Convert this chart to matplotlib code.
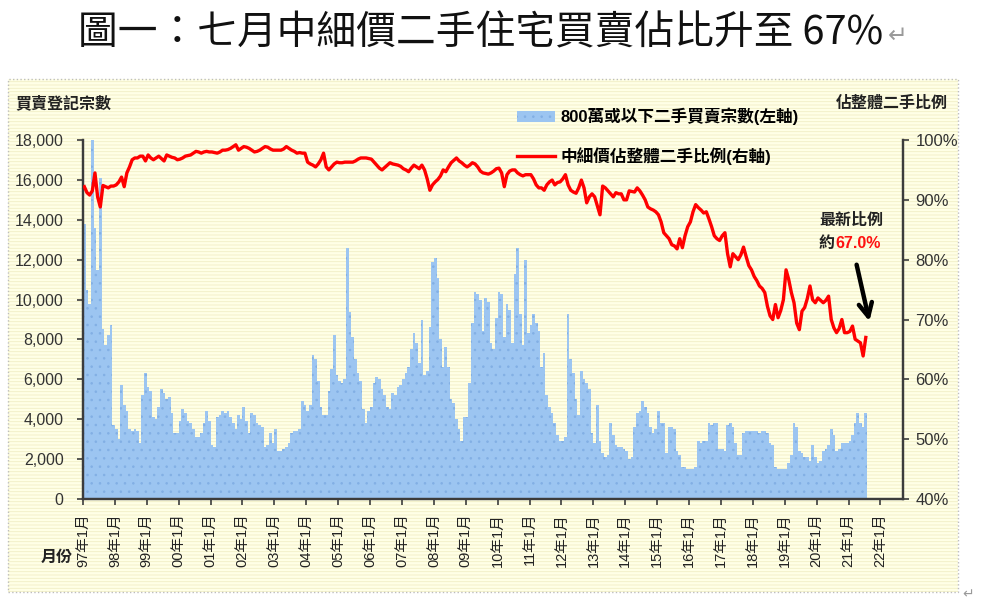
import matplotlib
matplotlib.use("Agg")
import matplotlib.pyplot as plt
import matplotlib.patches as mpatches
import numpy as np

plt.rcParams['font.family'] = ['Liberation Sans', 'Noto Sans CJK TC', 'DejaVu Sans']
plt.rcParams['hatch.linewidth'] = 0.6

# monthly data, 1997-01 .. 2021-07
# 800萬或以下二手買賣宗數
deals = (
    [13800, 10500, 9800, 18000, 13600, 11500, 16100, 8500, 7700, 8200, 8700, 3700]      # 1997
    + [3500, 3000, 5700, 4700, 4400, 3500, 3400, 3500, 3400, 2800, 5200, 6300]          # 1998
    + [5600, 5400, 4100, 4000, 4600, 5500, 5300, 5000, 5100, 4300, 3300, 3300]          # 1999
    + [3900, 4500, 4300, 3900, 3800, 3500, 3100, 3100, 3300, 3800, 4400, 3900]          # 2000
    + [2700, 2600, 4100, 4200, 4400, 4300, 4400, 4100, 3800, 3500, 4200, 4000]          # 2001
    + [4600, 3900, 3300, 4300, 4200, 3800, 3700, 3600, 2600, 2700, 3300, 2800]          # 2002
    + [3500, 2400, 2400, 2500, 2600, 2800, 3300, 3400, 3400, 3500, 4900, 4700]          # 2003
    + [4400, 4700, 7200, 7000, 5900, 4600, 4200, 4200, 5400, 6500, 8200, 6200]          # 2004
    + [5900, 5800, 6000, 12600, 9400, 8100, 7000, 6300, 5900, 4500, 3800, 4400]         # 2005
    + [4600, 5800, 6100, 6000, 5500, 5200, 4600, 4500, 5300, 5200, 5600, 5700]          # 2006
    + [6000, 6300, 6600, 7500, 8300, 7800, 6800, 9000, 6200, 6400, 8600, 11900]         # 2007
    + [12100, 11100, 8000, 6600, 7600, 6600, 5000, 4800, 4000, 3500, 2900, 4100]        # 2008
    + [4100, 5800, 8800, 10400, 10300, 10000, 8400, 10100, 9900, 7800, 7500, 9100]      # 2009
    + [10400, 10300, 8100, 9800, 9500, 7800, 11300, 12600, 9300, 7700, 12000, 8300]     # 2010
    + [8700, 9300, 8800, 8400, 6600, 7300, 5200, 4600, 4300, 3800, 3200, 2900]          # 2011
    + [2900, 3100, 9300, 7000, 6300, 5000, 4200, 6400, 6000, 5800, 5500, 3300]          # 2012
    + [2800, 4700, 2900, 2300, 2100, 2200, 3800, 3200, 2700, 2600, 2600, 2500]          # 2013
    + [2400, 2000, 2100, 3600, 4300, 4400, 4900, 4600, 4300, 3600, 3300, 3500]          # 2014
    + [4400, 3800, 3800, 2300, 3600, 3600, 3500, 2400, 2200, 1600, 1600, 1500]          # 2015
    + [1500, 1500, 1600, 2900, 2800, 2900, 2900, 3800, 3700, 3800, 3800, 2500]          # 2016
    + [2500, 2400, 3700, 3800, 3600, 2800, 2200, 2200, 3300, 3400, 3400, 3400]          # 2017
    + [3400, 3400, 3300, 3400, 3400, 3300, 2800, 2700, 1600, 1500, 1500, 1500]          # 2018
    + [1500, 1800, 2200, 3800, 3600, 2400, 2300, 2100, 2100, 1900, 2700, 2100]          # 2019
    + [1800, 1900, 2400, 2500, 2700, 3500, 3200, 2400, 2500, 2800, 2800, 2800]          # 2020
    + [2900, 3200, 3800, 4300, 3800, 3600, 4300]                                        # 2021
)

# 中細價佔整體二手比例 (%)
share = (
    [92.2, 91.2, 90.8, 91.5, 94.5, 90.5, 88.8, 92.4, 92.2, 92.0, 92.3, 92.3]
    + [92.5, 93.0, 93.8, 92.2, 94.5, 95.5, 96.7, 97.0, 97.0, 97.3, 97.3, 96.5]
    + [97.5, 97.0, 96.7, 97.0, 97.3, 96.9, 96.5, 97.5, 97.3, 97.1, 97.0, 96.7]
    + [96.8, 97.0, 97.3, 97.4, 97.5, 97.8, 98.1, 98.0, 97.8, 98.0, 98.1, 98.0]
    + [98.0, 97.9, 97.8, 98.0, 98.3, 98.3, 98.4, 98.6, 98.9, 99.2, 98.3, 98.6]
    + [98.9, 98.8, 98.6, 98.3, 98.0, 98.1, 98.3, 98.6, 98.9, 98.8, 98.5, 98.3]
    + [98.3, 98.3, 98.3, 98.5, 98.9, 98.6, 98.3, 98.1, 97.8, 97.9, 97.8, 97.8]
    + [96.3, 96.0, 95.8, 95.5, 96.0, 96.7, 97.8, 95.5, 95.0, 95.5, 96.0, 96.3]
    + [96.2, 96.2, 96.3, 96.3, 96.3, 96.3, 96.5, 96.8, 97.0, 97.0, 97.0, 96.9]
    + [96.8, 96.3, 95.8, 95.3, 95.0, 95.4, 95.8, 96.2, 96.0, 95.9, 95.8, 95.6]
    + [95.2, 95.0, 94.7, 95.3, 95.8, 95.5, 95.2, 95.8, 95.0, 93.5, 91.6, 92.5]
    + [93.0, 93.4, 94.0, 95.0, 94.7, 95.5, 96.2, 96.6, 97.0, 96.5, 96.2, 95.8]
    + [95.5, 95.8, 96.2, 96.0, 95.5, 94.8, 94.5, 94.4, 94.3, 94.5, 94.8, 95.2]
    + [95.3, 94.5, 92.2, 94.2, 94.8, 95.0, 95.0, 94.5, 94.2, 94.0, 94.2, 94.2]
    + [94.2, 93.5, 92.5, 92.0, 92.0, 91.6, 92.5, 93.0, 93.3, 92.5, 92.9, 93.0]
    + [93.5, 94.2, 92.5, 91.6, 91.3, 91.1, 92.0, 93.3, 92.0, 89.5, 90.5, 91.0]
    + [90.5, 89.0, 87.5, 92.3, 92.0, 91.5, 91.0, 90.5, 91.2, 91.0, 91.0, 90.0]
    + [90.0, 91.5, 91.4, 91.3, 92.0, 91.5, 90.8, 90.0, 88.8, 88.5, 88.3, 88.0]
    + [87.5, 86.3, 84.5, 84.0, 83.5, 82.5, 82.3, 81.8, 83.5, 82.0, 84.0, 85.5]
    + [86.3, 88.0, 89.2, 88.7, 88.3, 87.8, 88.0, 86.8, 85.5, 84.0, 83.5, 83.2]
    + [84.0, 84.5, 81.0, 78.8, 81.0, 80.5, 80.0, 80.8, 82.1, 80.5, 79.0, 78.3]
    + [77.2, 76.5, 75.6, 75.2, 74.5, 72.2, 70.6, 70.0, 72.5, 70.3, 71.5, 73.3]
    + [78.3, 76.7, 74.5, 72.8, 69.4, 68.3, 71.4, 72.0, 73.5, 75.6, 73.3, 72.8]
    + [73.6, 73.2, 72.8, 73.2, 73.9, 70.0, 68.6, 67.8, 68.5, 70.0, 67.8, 67.8]
    + [68.0, 68.9, 66.7, 66.4, 66.1, 63.9, 67.0]
)

years = list(range(1997, 2023))
xlabels = ["%02d年1月" % (y % 100) for y in years]
left_ticks = list(range(0, 18001, 2000))
right_ticks = list(range(40, 101, 10))

W, H = 988, 607
fig = plt.figure(figsize=(W / 100, H / 100), dpi=100)
fig.patch.set_facecolor('white')

def fx(px):
    return px / W

def fy(py):
    return 1 - py / H

# chart box, pale yellow with thin stripes (drawn below the axes)
box = mpatches.Rectangle((fx(8), fy(592)), fx(950), (592 - 79) / H, transform=fig.transFigure,
                         facecolor='#FFFFE6', edgecolor='#F1EEC6', hatch='-----', lw=0, zorder=-10)
fig.patches.append(box)
border = mpatches.Rectangle((fx(8), fy(592)), fx(950), (592 - 79) / H, transform=fig.transFigure,
                            fill=False, edgecolor='#BDBDBD', lw=1, ls=':', zorder=-9)
fig.patches.append(border)

ax = fig.add_axes([fx(83), fy(499), fx(903 - 83), (499 - 140) / H])
ax.patch.set_alpha(0)
idx = np.arange(len(deals))
bars = ax.bar(idx, deals, width=1.0, align='edge', color='#9CC5F1', edgecolor='#82AFE4',
              hatch='..', linewidth=0, zorder=2)
ax.set_xlim(0, 308.5)
ax.set_ylim(0, 18000)

ax2 = ax.twinx()
ax2.patch.set_alpha(0)
line, = ax2.plot(np.arange(len(share)) + 0.5, share, color='#FF0000', lw=2.4, zorder=3)
ax2.set_ylim(40, 100)

spine_c = '#3C3C3C'
for a in (ax, ax2):
    a.spines['top'].set_visible(False)
    for s in ('left', 'right', 'bottom'):
        a.spines[s].set_color(spine_c)
        a.spines[s].set_linewidth(1.6)

ax.set_yticks(left_ticks)
ax.set_yticklabels(["{:,}".format(v) for v in left_ticks], fontsize=11.5, color='#333333')
ax.set_xticks(range(0, 301, 12))
ax.set_xticklabels(xlabels, rotation=90, fontsize=10.5, color='#222222')
ax.tick_params(axis='both', direction='out', length=4, width=1.2, color=spine_c, pad=10)
ax.tick_params(axis='x', pad=6)

ax2.set_yticks(right_ticks)
ax2.set_yticklabels(["%d%%" % v for v in right_ticks], fontsize=12, color='#333333')
ax2.tick_params(axis='y', direction='out', length=4, width=1.2, color=spine_c, pad=5)

leg = ax2.legend([bars, line], ['800萬或以下二手買賣宗數(左軸)', '中細價佔整體二手比例(右軸)'],
                 loc='upper left', bbox_to_anchor=(fx(510), fy(101)), bbox_transform=fig.transFigure,
                 frameon=False, prop={'size': 12, 'weight': 'bold'}, handlelength=2.3,
                 handletextpad=0.3, labelspacing=1.3, borderaxespad=0)

# titles and annotations
fig.text(fx(78), fy(33), '圖一：七月中細價二手住宅買賣佔比升至 67%', fontsize=28.6,
         family=['Noto Sans CJK TC', 'DejaVu Sans'], ha='left', va='center', color='#111111')
fig.text(fx(888), fy(36), '↵', fontsize=17, family='DejaVu Sans', color='#9A9A9A', ha='left', va='center')
fig.text(fx(962), fy(594), '↵', fontsize=10, family='DejaVu Sans', color='#9A9A9A', ha='left', va='center')

fig.text(fx(15), fy(103), '買賣登記宗數', fontsize=11.5, weight='bold', ha='left', va='center', color='#222222')
fig.text(fx(948), fy(103), '佔整體二手比例', fontsize=11.5, weight='bold', ha='right', va='center', color='#222222')
fig.text(fx(57), fy(557), '月份', fontsize=11.5, weight='bold', ha='center', va='center', color='#222222')

fig.text(fx(851), fy(220), '最新比例', fontsize=11.5, weight='bold', ha='center', va='center', color='#222222')
fig.text(fx(834), fy(243), '約', fontsize=11.5, weight='bold', ha='right', va='center', color='#222222')
fig.text(fx(835), fy(243), '67.0%', fontsize=11.5, weight='bold', ha='left', va='center', color='#FF1010')

ax2.annotate('', xy=(870, 607 - 324), xycoords='figure pixels', xytext=(856, 607 - 262),
             textcoords='figure pixels',
             arrowprops=dict(arrowstyle='->', lw=3.2, color='black', mutation_scale=24))

fig.savefig('out.png', dpi=100)
